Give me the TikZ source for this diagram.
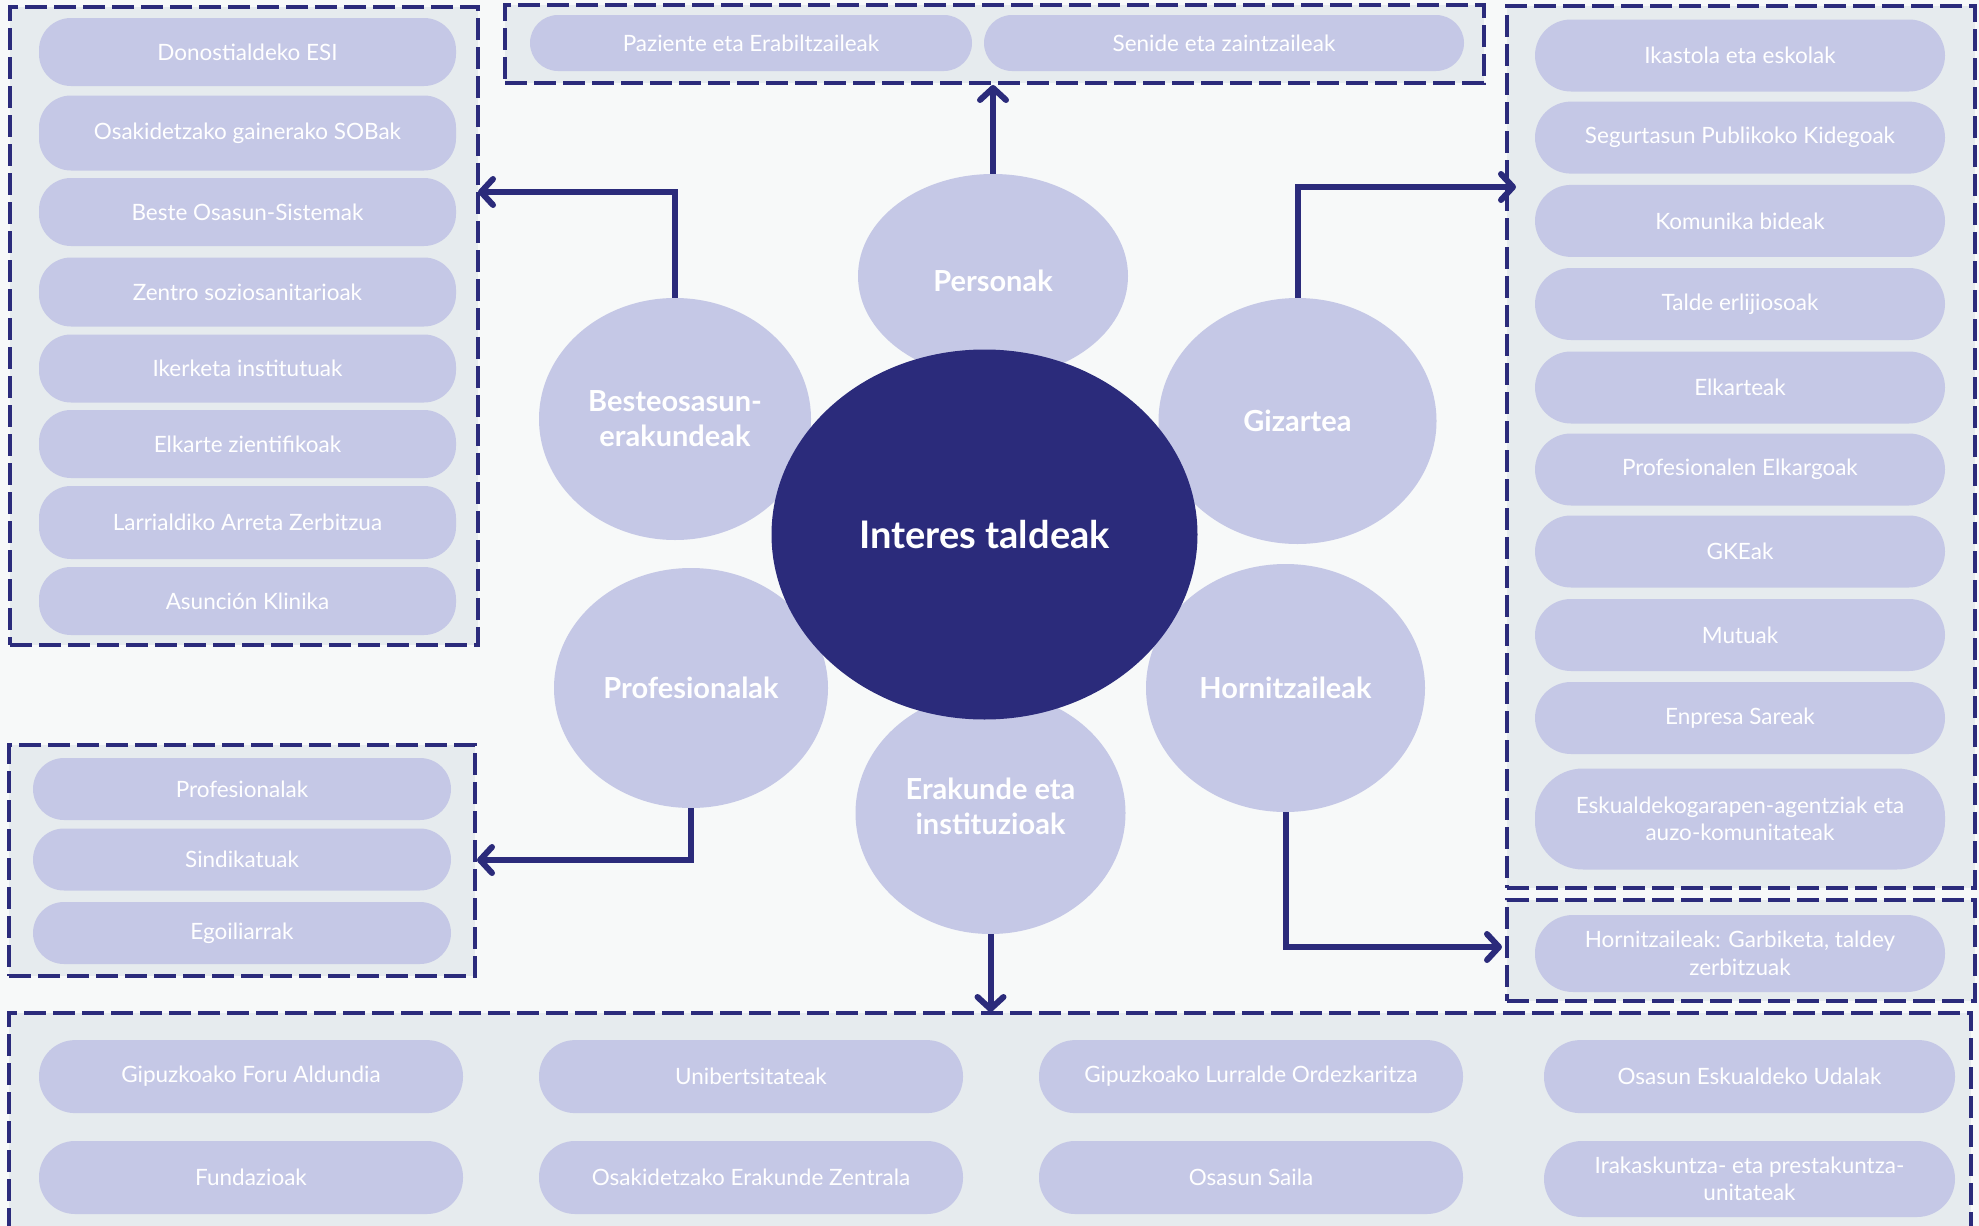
\documentclass[tikz,border=0pt]{standalone}
\usepackage{fontspec}
\setmainfont{Lato}
\usetikzlibrary{shapes.geometric,arrows.meta}
\definecolor{navy}{HTML}{2B2B7B}
\definecolor{pillc}{HTML}{C5C8E6}
\definecolor{grpc}{HTML}{E6EBEE}
\definecolor{bgc}{HTML}{F7F9F9}
\tikzset{
  pill/.style={fill=pillc, text=white, font=\fontsize{22.5}{27.5}\selectfont, align=center,
    inner sep=0pt, rounded corners=#1, minimum width=417pt},
  pill/.default=32pt,
  grp/.style={fill=grpc, draw=navy, line width=4pt, dash pattern=on 22pt off 7pt, inner sep=0pt},
  sat/.style={ellipse, fill=pillc, text=white, font=\fontsize{29}{35}\selectfont\bfseries, align=center, inner sep=0pt},
  conn/.style={draw=navy, line width=6pt, -{Straight Barb[length=12pt,width=26pt,round]}}
}
\begin{document}
\begin{tikzpicture}[x=1pt,y=-1pt]
\useasboundingbox (0,0) rectangle (1979,1226);
\fill[bgc] (0,0) rectangle (1979,1226);

% group boxes
\node[grp, minimum width=468pt, minimum height=638pt] (gL) at (244,326) {};
\node[grp, minimum width=979pt, minimum height=78pt] (gT) at (994.5,44) {};
\node[grp, minimum width=468pt, minimum height=882pt] (gR) at (1741,447) {};
\node[grp, minimum width=468pt, minimum height=101pt] (gH) at (1741,950.5) {};
\node[grp, minimum width=466pt, minimum height=231pt] (gP) at (242,860.5) {};
\fill[grpc] (9,1013) rectangle (1971,1226);
\draw[navy, line width=4pt, dash pattern=on 22pt off 7pt] (9,1230) -- (9,1013) -- (1971,1013) -- (1971,1230);

% left pills
\node[pill, minimum height=68pt] (L1) at (247.5,52) {Donostialdeko ESI};
\node[pill, minimum height=75pt] (L2) at (247.5,133) {Osakidetzako gainerako SOBak};
\node[pill, minimum height=68pt] (L3) at (247.5,212) {Beste Osasun-Sistemak};
\node[pill, minimum height=69pt] (L4) at (247.5,292) {Zentro soziosanitarioak};
\node[pill, minimum height=68pt] (L5) at (247.5,368.5) {Ikerketa institutuak};
\node[pill, minimum height=68pt] (L6) at (247.5,444) {Elkarte zientifikoak};
\node[pill, minimum height=73pt] (L7) at (247.5,522.5) {Larrialdiko Arreta Zerbitzua};
\node[pill, minimum height=68pt] (L8) at (247.5,601) {Asunción Klinika};

% top pills
\node[pill=28pt, minimum width=442pt, minimum height=56pt] (T1) at (751,43) {Paziente eta Erabiltzaileak};
\node[pill=28pt, minimum width=480pt, minimum height=56pt] (T2) at (1224,43) {Senide eta zaintzaileak};

% right pills
\node[pill=36pt, minimum width=410pt, minimum height=72pt] (R1) at (1740,55.5) {Ikastola eta eskolak};
\node[pill=36pt, minimum width=410pt, minimum height=72pt] (R2) at (1740,137.6) {Segurtasun Publikoko Kidegoak};
\node[pill=36pt, minimum width=410pt, minimum height=72pt] (R3) at (1740,220.9) {Komunika bideak};
\node[pill=36pt, minimum width=410pt, minimum height=72pt] (R4) at (1740,304) {Talde erlijiosoak};
\node[pill=36pt, minimum width=410pt, minimum height=72pt] (R5) at (1740,387.5) {Elkarteak};
\node[pill=36pt, minimum width=410pt, minimum height=72pt] (R6) at (1740,469.5) {Profesionalen Elkargoak};
\node[pill=36pt, minimum width=410pt, minimum height=72pt] (R7) at (1740,551.5) {GKEak};
\node[pill=36pt, minimum width=410pt, minimum height=72pt] (R8) at (1740,635) {Mutuak};
\node[pill=36pt, minimum width=410pt, minimum height=72pt] (R9) at (1740,718) {Enpresa Sareak};
\node[pill=48pt, minimum width=410pt, minimum height=101pt] (R10) at (1740,819) {Eskualdekogarapen-agentziak eta\\auzo-komunitateak};
\node[pill=38pt, minimum width=410pt, minimum height=77pt] (RH) at (1740,953.5) {Hornitzaileak: Garbiketa, taldey\\zerbitzuak};

% lower left pills
\node[pill=31pt, minimum width=418pt, minimum height=62pt] (P1) at (242,789) {Profesionalak};
\node[pill=31pt, minimum width=418pt, minimum height=62pt] (P2) at (242,859.5) {Sindikatuak};
\node[pill=31pt, minimum width=418pt, minimum height=62pt] (P3) at (242,933) {Egoiliarrak};

% bottom pills
\node[pill=36pt, minimum width=424pt, minimum height=73pt] (B1) at (251,1076.6) {Gipuzkoako Foru Aldundia};
\node[pill=36pt, minimum width=424pt, minimum height=73pt] (B2) at (751,1076.6) {Unibertsitateak};
\node[pill=36pt, minimum width=424pt, minimum height=73pt] (B3) at (1251,1076.6) {Gipuzkoako Lurralde Ordezkaritza};
\node[pill=36pt, minimum width=411pt, minimum height=73pt] (B4) at (1749.5,1076.6) {Osasun Eskualdeko Udalak};
\node[pill=36pt, minimum width=424pt, minimum height=73pt] (B5) at (251,1177.5) {Fundazioak};
\node[pill=36pt, minimum width=424pt, minimum height=73pt] (B6) at (751,1177.5) {Osakidetzako Erakunde Zentrala};
\node[pill=36pt, minimum width=424pt, minimum height=73pt] (B7) at (1251,1177.5) {Osasun Saila};
\node[pill=38pt, minimum width=411pt, minimum height=76pt] (B8) at (1749.5,1179) {Irakaskuntza- eta prestakuntza-\\unitateak};

% satellites
\node[sat, minimum width=270pt, minimum height=204pt] (pers) at (993,276) {};
\node[sat, minimum width=272pt, minimum height=242pt] (beste) at (675,419) {};
\node[sat, minimum width=278pt, minimum height=246pt] (giz) at (1297.5,421) {};
\node[sat, minimum width=274pt, minimum height=240pt] (prof) at (691,688) {};
\node[sat, minimum width=279pt, minimum height=248pt] (horn) at (1285.5,688) {};
\node[sat, minimum width=270pt, minimum height=242pt] (erak) at (990.5,813) {};
\node[ellipse, fill=navy, text=white, inner sep=0pt, minimum width=426pt, minimum height=370pt,
  font=\fontsize{38}{44}\selectfont\bfseries] (ctr) at (984.5,534.5) {Interes taldeak};

% satellite labels
\tikzset{satlbl/.style={text=white, font=\fontsize{29}{35}\selectfont\bfseries, align=center, inner sep=0pt}}
\node[satlbl] (persL) at ([yshift=-5pt]pers.center) {Personak};
\node[satlbl] (besteL) at (beste.center) {Besteosasun-\\erakundeak};
\node[satlbl] (gizL) at (giz.center) {Gizartea};
\node[satlbl] (profL) at (prof.center) {Profesionalak};
\node[satlbl] (hornL) at (horn.center) {Hornitzaileak};
\node[satlbl] (erakL) at ([yshift=7pt]erak.center) {Erakunde eta\\instituzioak};

% connectors
\coordinate (aL) at (478,192);
\coordinate (aR) at (1516,187);
\coordinate (aP) at (477,860);
\coordinate (aH) at (1502,947);
\coordinate (aB) at (990.5,1012);
\draw[conn] (pers.north) -- (pers.north |- gT.south);
\draw[conn] (beste.north) |- (aL);
\draw[conn] (giz.north) |- (aR);
\draw[conn] (prof.south) |- (aP);
\draw[conn] (horn.south) |- (aH);
\draw[conn] (erak.south) -- (aB);
\end{tikzpicture}
\end{document}
